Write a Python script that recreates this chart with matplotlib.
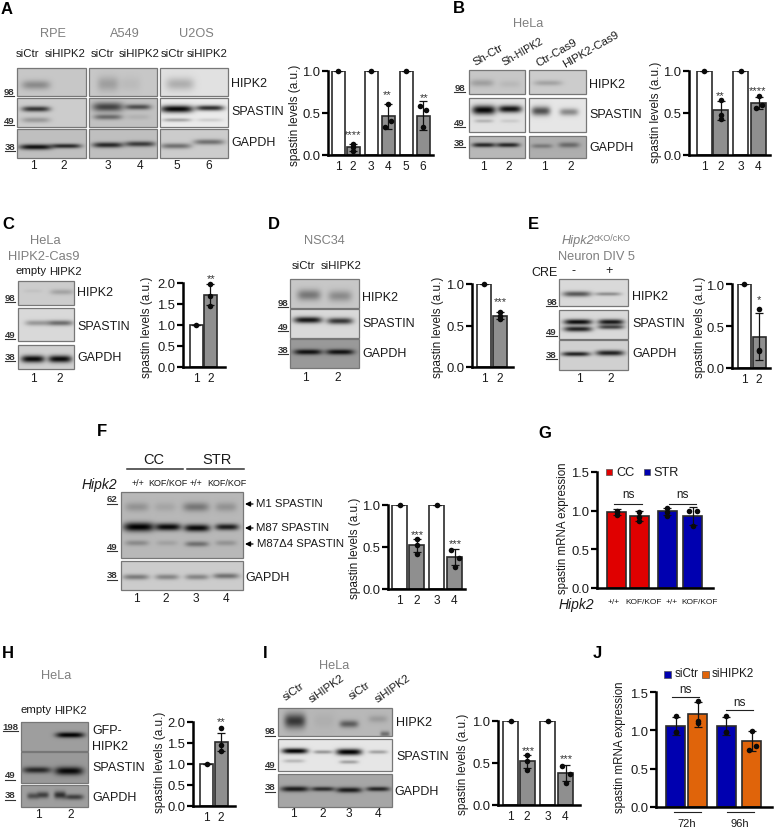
import numpy as np
import matplotlib
matplotlib.use("Agg")
import matplotlib.pyplot as plt
from matplotlib.patches import Rectangle

plt.rcParams['font.family'] = ['Liberation Sans', 'DejaVu Sans']

# ---------- data ----------
tick_1y = [0.0, 0.5, 1.0]
tick_2y = [0.0, 0.5, 1.0, 1.5, 2.0]
tick_15y = [0.0, 0.5, 1.0, 1.5]

a_means = [1, .09, 1, .46, 1, .47]
a_sd = [0, .04, 0, .15, 0, .17]
a_pts = [[1], [.05, .09, .13], [1], [.33, .41, .61], [1], [.33, .53, .58]]
b_means = [1, .53, 1, .62]
b_sd = [0, .11, 0, .07]
b_pts = [[1], [.43, .48, .65], [1], [.56, .6, .7]]
c_means = [1, 1.72]
c_sd = [0, .25]
c_pts = [[1], [1.45, 1.7, 1.98]]
d_means = [1, .62]
d_sd = [0, .04]
d_pts = [[1], [.58, .62, .66]]
e_means = [1, .37]
e_sd = [0, .28]
e_pts = [[1], [.2, .21, .7]]
f_means = [1, .52, 1, .38]
f_sd = [0, .08, 0, .10]
f_pts = [[1], [.42, .52, .6], [1], [.26, .37, .46]]
g_means = [.98, .93, .99, .93]
g_sd = [.04, .07, .05, .12]
g_pts = [[.95, .98, 1.0], [.86, .92, .98], [.93, .98, 1.03], [.8, 1.0, 1.0]]
h_means = [1, 1.53]
h_sd = [0, .22]
h_pts = [[1], [1.3, 1.45, 1.85]]
i_means = [1, .52, 1, .38]
i_sd = [0, .08, 0, .10]
i_pts = [[1], [.42, .52, .6], [1], [.26, .37, .46]]
j_means = [1.06, 1.21, 1.06, .86]
j_sd = [.12, .16, .12, .13]
j_pts = [[.98, .98, 1.19], [1.09, 1.12, 1.38], [.98, .98, 1.19], [.74, .8, .99]]

W, H = 775, 829
fig = plt.figure(figsize=(W / 100, H / 100), dpi=100, facecolor='white')
ov = fig.add_axes([0, 0, 1, 1], zorder=5)
ov.patch.set_alpha(0)
ov.axis('off')

GRAY_T = '#7f7f7f'
TXT = '#1a1a1a'
LANE = 8.6
WHITE, GRAY, RED, BLUE, ORANGE = 'white', '#8f8f8f', '#e00000', '#0000b0', '#e0640a'


def T(x, y, s, size=9, color=TXT, ha='left', **kw):
    ov.text(x, y, s, fontsize=size, color=color, ha=ha, va='center', **kw)


def blot(x0, x1, y0, y1, bg, bands):
    xx, yy = np.meshgrid(np.arange(x0, x1, .5) + .25, np.arange(y0, y1, .5) + .25)
    keep = np.ones_like(xx)
    for cx, cy, w, h, d in bands:
        g = np.exp(-((xx - cx) / (w / 1.7)) ** 4 - ((yy - cy) / (h / 1.1)) ** 2)
        keep *= 1 - d * g
    ov.imshow(bg * keep, extent=(x0, x1, y1, y0), cmap='gray', vmin=0, vmax=1,
              aspect='auto', interpolation='bilinear', zorder=1)
    ov.add_patch(Rectangle((x0, y0), x1 - x0, y1 - y0, fill=False, ec='#777777', lw=.9, zorder=2))


def mw(x0, x1, y, s):
    T((x0 + x1) / 2, y, s, size=6.8, ha='center', fontweight='bold', color='#333333')
    ov.plot([x0, x1], [y + 4.8, y + 4.8], color='#333333', lw=.8, zorder=3)


def chart(x_ax, x_end, y_top, y_zero, ymax, yticks, centers, halfw, means, sd, pts,
          colors, jit=None, ylab=None, ylabx=0, ylaby=0, ylsize=8.5, labels=None):
    ax = fig.add_axes([x_ax / W, 1 - y_zero / H, (x_end - x_ax) / W, (y_zero - y_top) / H], zorder=6)
    ax.patch.set_alpha(0)
    ax.set_xlim(0, x_end - x_ax)
    ax.set_ylim(0, ymax)
    pos = [c - x_ax for c in centers]
    edge = '#2b2b2b'
    ax.bar(pos, means, width=2 * halfw, color=colors, edgecolor=edge, lw=1.2, zorder=2)
    ax.errorbar(pos, means, yerr=sd, fmt='none', ecolor='#111111', elinewidth=.9,
                capsize=2.8, capthick=.9, zorder=3)
    for k, (p, vals) in enumerate(zip(pos, pts)):
        off = ((jit[k] if jit else []) + [0, 0, 0])[:len(vals)]
        ax.scatter([p + o for o in off], vals, s=16, color='#0a0a0a', zorder=4,
                   clip_on=False, lw=0)
    for s in ('top', 'right'):
        ax.spines[s].set_visible(False)
    ax.spines['left'].set_linewidth(1.8)
    ax.spines['bottom'].set_linewidth(1.8)
    ax.set_yticks(yticks)
    ax.set_yticklabels([f'{t:.1f}' for t in yticks], fontsize=9.4, color=TXT)
    ax.tick_params(axis='y', length=4.5, width=1.6, pad=1.2)
    ax.set_xticks(pos)
    ax.set_xticklabels(labels or [str(i + 1) for i in range(len(pos))], fontsize=LANE, color=TXT)
    ax.tick_params(axis='x', length=0, pad=3.5)
    T(ylabx, ylaby, ylab or 'spastin levels (a.u.)', size=ylsize, rotation=90, ha='center')
    return ax


def stars(x, y, s):
    T(x, y + 2, s, size=8, ha='center', color='#333333')


# ---------- panel letters ----------
for lx, ly, s in [(1, 9, 'A'), (453, 8, 'B'), (2, 224, 'C'), (268, 224, 'D'), (528, 224, 'E'),
                  (97, 432, 'F'), (538, 434, 'G'), (2, 654, 'H'), (263, 654, 'I'), (593, 653, 'J')]:
    T(lx, ly, s, size=12, color='black', fontweight='bold')

# ---------- Panel A ----------
for x, s in [(53, 'RPE'), (125, 'A549'), (196, 'U2OS')]:
    T(x, 34, s, size=9.2, color=GRAY_T, ha='center')
for x, s in [(27, 'siCtr'), (65, 'siHIPK2'), (102, 'siCtr'), (139, 'siHIPK2'), (172, 'siCtr'), (207, 'siHIPK2')]:
    T(x, 54, s, size=8.2, ha='center')
blot(17, 86, 69, 97, .78, [(36, 86, 24, 5, .3)])
blot(89, 157, 69, 97, .78, [(108, 85, 18, 8, .2), (130, 85, 18, 8, .06)])
blot(160, 228, 69, 97, .88, [(180, 85, 24, 7, .22)])
blot(17, 86, 99, 128, .80, [(36, 110, 24, 3, .75), (36, 121, 24, 3, .25)])
blot(89, 157, 99, 128, .76, [(108, 108, 26, 5, .65), (108, 118, 24, 3, .45), (138, 108, 22, 3, .6), (138, 118, 20, 3, .08)])
blot(160, 228, 99, 128, .92, [(177, 110, 28, 4, .97), (210, 109, 24, 3, .8), (177, 121, 24, 2, .3), (210, 121, 22, 2, .12)])
blot(17, 86, 130, 159, .75, [(36, 148, 28, 3, .92), (66, 147, 26, 2.5, .8)])
blot(89, 157, 130, 159, .75, [(108, 146, 26, 3, .8), (140, 145, 26, 3, .7)])
blot(160, 228, 130, 159, .80, [(176, 147, 26, 3, .45), (209, 143, 26, 3, .45)])
T(231, 84, 'HIPK2'); T(231, 112, 'SPASTIN'); T(231, 143, 'GAPDH')
mw(4, 14, 92, '98'); mw(4, 14, 121, '49'); mw(5, 15, 147, '38')
for x, s in zip([33, 64, 108, 140, 177, 209], '123456'):
    T(x, 166, s, size=LANE, ha='center')
chart(328, 433, 72, 156, 1.0, tick_1y, [338, 353, 371, 388, 406, 423], 6.5, a_means, a_sd, a_pts,
      [WHITE, GRAY] * 3, jit=[[0], [0, 0, 0], [0], [-3, 3, 0], [0], [0, 3, -3]], ylabx=295, ylaby=115)
stars(353, 133, '****'); stars(387, 93, '**'); stars(424, 96, '**')

# ---------- Panel B ----------
T(528, 24, 'HeLa', size=9.2, color=GRAY_T, ha='center')
for x, y, s, fs in [(476, 68, 'Sh-Ctr', 8.2), (506, 68, 'Sh-HIPK2', 7.4), (539, 69, 'Ctr-Cas9', 8.2), (566, 70, 'HIPK2-Cas9', 8.2)]:
    ov.text(x, y, s, fontsize=fs, color=TXT, rotation=30, rotation_mode='anchor', ha='left', va='bottom')
blot(469, 525, 71, 95, .78, [(482, 84, 20, 4, .2), (510, 85, 18, 4, .07)])
blot(529, 586, 71, 95, .80, [(548, 84, 24, 3, .2)])
blot(469, 525, 99, 133, .88, [(484, 111, 20, 5, .97), (510, 110, 20, 4, .92), (484, 122, 16, 2, .2), (510, 122, 16, 2, .1)])
blot(529, 586, 99, 133, .90, [(541, 112, 16, 5, .65), (569, 113, 16, 4, .4)])
blot(469, 525, 137, 159, .72, [(484, 146, 20, 2.5, .8), (508, 146, 20, 2.5, .8)])
blot(529, 586, 137, 159, .68, [(542, 147, 18, 2.5, .3), (569, 146, 18, 3, .4)])
T(589, 85, 'HIPK2'); T(589, 115, 'SPASTIN'); T(589, 148, 'GAPDH')
mw(454, 465, 88, '98'); mw(454, 465, 123, '49'); mw(454, 465, 143, '38')
for x, s in zip([483, 509, 544, 571], '1212'):
    T(x, 167, s, size=LANE, ha='center')
chart(689, 770, 72, 156, 1.0, tick_1y, [704, 720.5, 740.5, 758.5], 7.5, b_means, b_sd, b_pts,
      [WHITE, GRAY] * 2, jit=[[0], [0, 0, 0], [0], [-3, 3, 0]], ylabx=656, ylaby=112)
stars(720, 94, '**'); stars(758, 89, '****')

# ---------- Panel C ----------
T(45, 241, 'HeLa', size=9.3, color=GRAY_T, ha='center')
T(44, 257, 'HIPK2-Cas9', size=9.3, color=GRAY_T, ha='center')
T(31, 271, 'empty', size=8.2, ha='center'); T(65, 272, 'HIPK2', size=8.2, ha='center')
blot(18, 74, 282, 306, .80, [(33, 292, 16, 2, .05), (62, 293, 20, 3, .2)])
blot(18, 74, 309, 342, .85, [(37, 324, 20, 3, .3), (60, 324, 22, 3, .5)])
blot(18, 74, 346, 370, .82, [(33, 360, 20, 4, .95), (60, 360, 20, 4, .95)])
T(77, 293, 'HIPK2'); T(77, 327, 'SPASTIN'); T(77, 358, 'GAPDH')
mw(5, 15, 298, '98'); mw(5, 15, 335, '49'); mw(5, 15, 357, '38')
T(33, 379, '1', size=LANE, ha='center'); T(60, 379, '2', size=LANE, ha='center')
chart(183, 225, 284, 368, 2.0, tick_2y, [196, 210.5], 6.5, c_means, c_sd, c_pts, [WHITE, GRAY], ylabx=147, ylaby=327)
stars(211, 277, '**')

# ---------- Panel D ----------
T(324, 241, 'NSC34', size=9.2, color=GRAY_T, ha='center')
T(303, 266, 'siCtr', size=8.2, ha='center'); T(341, 266, 'siHIPK2', size=8.2, ha='center')
blot(290, 359, 280, 309, .78, [(309, 296, 20, 6, .4), (340, 297, 20, 6, .3)])
blot(290, 359, 310, 339, .85, [(308, 321, 24, 3.5, .9), (340, 322, 22, 3.5, .75)])
blot(290, 359, 340, 369, .60, [(308, 353, 24, 3, .9), (340, 353, 24, 3, .9)])
T(362, 298, 'HIPK2'); T(362, 324, 'SPASTIN'); T(362, 354, 'GAPDH')
mw(278, 288, 303, '98'); mw(278, 288, 327, '49'); mw(278, 288, 350, '38')
T(305, 378, '1', size=LANE, ha='center'); T(338, 378, '2', size=LANE, ha='center')
chart(472, 513, 285, 368, 1.0, tick_1y, [484, 499.5], 7, d_means, d_sd, d_pts, [WHITE, GRAY], ylabx=438, ylaby=327)
stars(500, 300, '***')

# ---------- Panel E ----------
T(562, 241, 'Hipk2', size=9.2, color=GRAY_T, style='italic')
T(594, 238, 'cKO/cKO', size=6.4, color=GRAY_T)
T(596, 257, 'Neuron DIV 5', size=9.2, color=GRAY_T, ha='center')
T(531, 273, 'CRE', size=9); T(574, 271, '-', size=9, ha='center'); T(609, 271, '+', size=9, ha='center')
blot(559, 628, 280, 307, .85, [(577, 295, 24, 3, .6), (608, 295, 22, 2, .35)])
blot(559, 628, 311, 340, .85, [(578, 323, 24, 3, .95), (578, 330, 24, 3, .85), (611, 323, 22, 3, .9), (611, 328, 22, 2.5, .7)])
blot(559, 628, 341, 371, .82, [(576, 355, 24, 2.5, .85), (610, 354, 24, 3, .85)])
T(632, 297, 'HIPK2'); T(632, 324, 'SPASTIN'); T(632, 354, 'GAPDH')
mw(546, 557, 302, '98'); mw(546, 557, 332, '49'); mw(546, 557, 355, '38')
T(579, 379, '1', size=LANE, ha='center'); T(611, 379, '2', size=LANE, ha='center')
chart(732, 770, 285, 369, 1.0, tick_1y, [744, 759], 6.5, e_means, e_sd, e_pts, [WHITE, GRAY], ylabx=700, ylaby=327)
stars(759, 298, '*')

# ---------- Panel F ----------
T(154, 460, 'CC', size=10.5, ha='center'); T(217, 460, 'STR', size=10.5, ha='center')
ov.plot([127, 183], [470, 470], color='#333333', lw=1.1); ov.plot([187, 244], [470, 470], color='#333333', lw=1.1)
T(82, 485, 'Hipk2', size=10, style='italic')
for x, s in [(138, '+/+'), (168, 'KOF/KOF'), (196, '+/+'), (227, 'KOF/KOF')]:
    T(x, 483, s, size=6.5, ha='center')
blot(121, 243, 493, 559, .72, [
    (137, 508, 20, 5, .2), (165, 508, 18, 5, .1), (196, 508, 22, 5, .35), (226, 508, 18, 5, .2),
    (139, 528, 26, 5, 1), (168, 528, 22, 4, .95), (197, 529, 22, 4, .95), (227, 528, 20, 3.5, .85),
    (137, 544, 20, 3, .25), (167, 544, 18, 3, .12), (197, 545, 20, 3, .4), (226, 544, 18, 3, .2)])
blot(121, 243, 562, 591, .80, [(136, 578, 22, 3, .4), (167, 578, 20, 3, .35), (197, 578, 20, 3, .35), (226, 577, 22, 3, .45)])
for y, s, x in [(504, 'M1 SPASTIN', 256), (528, 'M87 SPASTIN', 256), (544, 'M87\u03944 SPASTIN', 257)]:
    ov.annotate('', xy=(245, y + 1), xytext=(253, y + 1),
                arrowprops=dict(arrowstyle='-|>,head_length=.3,head_width=.15', color='black', lw=.9, shrinkA=0, shrinkB=0))
    T(x, y, s, size=8.2)
T(245, 578, 'GAPDH')
mw(107, 117, 500, '62'); mw(107, 117, 547, '49'); mw(107, 117, 576, '38')
for x, s in zip([136, 166, 196, 226], '1234'):
    T(x, 599, s, size=LANE, ha='center')
chart(388, 465, 506, 590, 1.0, tick_1y, [399.5, 416.5, 436.5, 454.5], 7.5, f_means, f_sd, f_pts,
      [WHITE, GRAY] * 2, jit=[[0], [0, 0, 0], [0], [0, 4, -4]], ylabx=355, ylaby=548)
stars(417, 533, '***'); stars(455, 542, '***')

# ---------- Panel G ----------
chart(597, 713, 473, 589, 1.5, tick_15y, [616.5, 639, 667, 692.5], 9.5, g_means, g_sd, g_pts,
      [RED, RED, BLUE, BLUE], jit=[[0], [0, 0, 0], [0], [0, -4, 4]], ylab='spastin mRNA expression',
      ylabx=563, ylaby=528, ylsize=8.3, labels=['', '', '', ''])
ov.add_patch(Rectangle((606, 470), 6, 6, fc=RED, ec='#555555', lw=.5))
ov.add_patch(Rectangle((644, 470), 6, 6, fc=BLUE, ec='#555555', lw=.5))
T(616, 473, 'CC', size=9.2); T(653, 473, 'STR', size=9.2)
for a, b, y in [(614, 642, 505), (669, 696, 505)]:
    ov.plot([a, b], [y, y], color='#222222', lw=.8)
    T((a + b) / 2, y - 10, 'ns', size=8.4, ha='center')
T(608, 602, '+/+', size=6); T(625, 602, 'KOF/KOF', size=6)
T(666, 602, '+/+', size=6); T(681, 602, 'KOF/KOF', size=6)
T(559, 605, 'Hipk2', size=10, style='italic')

# ---------- Panel H ----------
T(56, 676, 'HeLa', size=9.2, color=GRAY_T, ha='center')
T(36, 710, 'empty', size=8.2, ha='center'); T(70, 711, 'HIPK2', size=8.2, ha='center')
blot(21, 88, 723, 752, .62, [(70, 736, 24, 3, 1)])
blot(21, 88, 753, 784, .60, [(37, 771, 24, 3.5, .75), (69, 772, 24, 4.5, .95)])
blot(21, 88, 786, 808, .62, [(33, 797, 10, 3.5, .5), (43, 796, 10, 3.5, .6), (60, 796, 10, 4, .7), (74, 798, 16, 3, .6)])
T(92, 731, 'GFP-'); T(92, 747, 'HIPK2'); T(92, 768, 'SPASTIN'); T(92, 798, 'GAPDH')
mw(3, 18, 727, '198'); mw(5, 15, 776, '49'); mw(5, 15, 796, '38')
T(38, 815, '1', size=LANE, ha='center'); T(71, 815, '2', size=LANE, ha='center')
chart(193, 235, 723, 807, 2.0, tick_2y, [206.5, 221], 6.5, h_means, h_sd, h_pts, [WHITE, GRAY], ylabx=160, ylaby=762)
stars(221, 720, '**')

# ---------- Panel I ----------
T(334, 666, 'HeLa', size=9.2, color=GRAY_T, ha='center')
for x, y, s in [(287, 703, 'siCtr'), (313, 705, 'siHIPK2'), (353, 702, 'siCtr'), (379, 705, 'siHIPK2')]:
    ov.text(x, y, s, fontsize=8.2, color=TXT, rotation=35, rotation_mode='anchor', ha='left', va='bottom')
blot(278, 392, 709, 737, .72, [(295, 722, 18, 8, .7), (324, 722, 18, 8, .05), (349, 725, 16, 4, .5), (378, 720, 16, 4, .15), (385, 735, 8, 3, .4)])
blot(278, 392, 740, 772, .90, [(295, 752, 22, 3, 1), (294, 762, 18, 2, .2), (323, 753, 16, 2, .35), (349, 753, 22, 3.5, 1), (349, 763, 16, 2, .3), (378, 753, 16, 2, .3)])
blot(278, 392, 775, 808, .65, [(295, 790, 24, 3, .85), (323, 790, 20, 2.5, .75), (349, 791, 22, 3, .85), (378, 790, 20, 2.5, .8)])
T(396, 723, 'HIPK2'); T(396, 757, 'SPASTIN'); T(394, 792, 'GAPDH')
mw(265, 275, 732, '98'); mw(265, 275, 765, '49'); mw(265, 275, 788, '38')
for x, s in zip([293, 323, 349, 378], '1234'):
    T(x, 814, s, size=LANE, ha='center')
chart(498, 580, 722, 806, 1.0, tick_1y, [510.5, 527, 547.5, 565.5], 7.5, i_means, i_sd, i_pts,
      [WHITE, GRAY] * 2, jit=[[0], [0, 0, 0], [0], [0, 4, -4]], ylabx=463, ylaby=764)
stars(528, 749, '***'); stars(566, 757, '***')

# ---------- Panel J ----------
chart(656, 772, 693, 808, 1.5, tick_15y, [675.5, 697.5, 726, 751.5], 9.5, j_means, j_sd, j_pts,
      [BLUE, ORANGE, BLUE, ORANGE], jit=[[0, 0, 0], [0, 0, 0], [0, 0, 0], [-3, 4, 0]], ylab='spastin mRNA expression',
      ylabx=620, ylaby=747, ylsize=8.3, labels=['', '', '', ''])
ov.add_patch(Rectangle((664, 672), 7, 7, fc=BLUE, ec='#555555', lw=.5))
ov.add_patch(Rectangle((702, 672), 7, 7, fc=ORANGE, ec='#555555', lw=.5))
T(675, 674, 'siCtr', size=8.4); T(712, 674, 'siHIPK2', size=8.4)
for a, b, y in [(672, 699, 698), (726, 753, 711)]:
    ov.plot([a, b], [y, y], color='#222222', lw=.8)
    T((a + b) / 2, y - 8, 'ns', size=8.4, ha='center')
for a, b, c, s in [(674, 701, 687, '72h'), (727, 754, 740, '96h')]:
    ov.plot([a, b], [813, 813], color='#222222', lw=.8)
    T(c, 824, s, size=8, ha='center')

ov.set_xlim(0, W)
ov.set_ylim(H, 0)
fig.savefig('out.png', dpi=100)
